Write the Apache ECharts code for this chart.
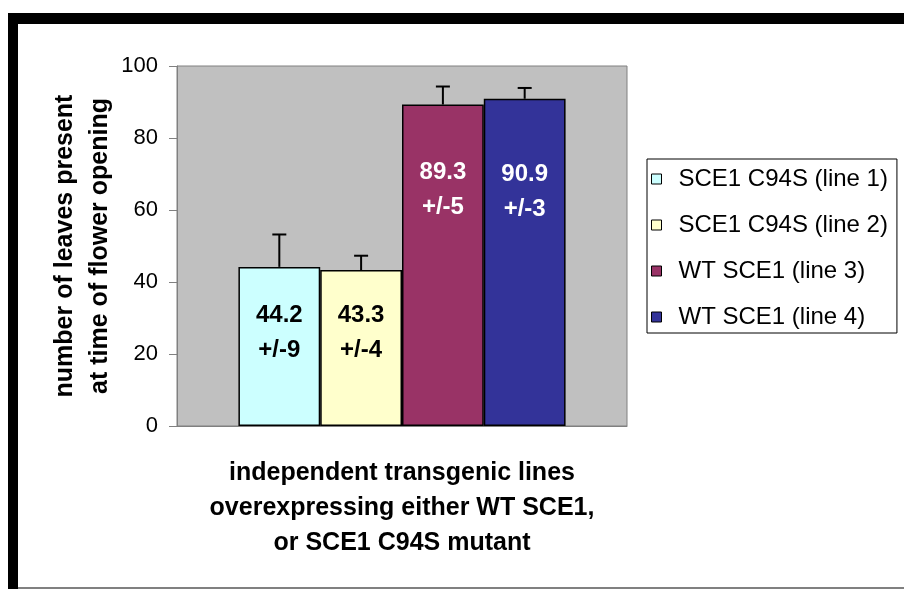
<!DOCTYPE html>
<html>
<head>
<meta charset="utf-8">
<script src="https://cdn.jsdelivr.net/npm/echarts@6/dist/echarts.min.js"></script>
<style>
html,body{margin:0;padding:0;background:#fff;}
#chart{width:904px;height:592px;}
</style>
</head>
<body>
<div id="chart"></div>
<script>
var categories = [''];
var seriesNames = ['SCE1 C94S (line 1)', 'SCE1 C94S (line 2)', 'WT SCE1 (line 3)', 'WT SCE1 (line 4)'];
var seriesValues = [44.2, 43.3, 89.3, 90.9];
var seriesErrors = [9, 4, 5, 3];
var yTicks = [0, 20, 40, 60, 80, 100];

var colors = ['#CCFFFF', '#FFFFCC', '#993366', '#333399'];
var labelColors = ['#000', '#000', '#fff', '#fff'];
var labelOffsets = [31, 28, 50, 58];
var CAT_GAP = 0.273;

var chart = echarts.init(document.getElementById('chart'));

var series = seriesNames.map(function (name, i) {
  return {
    name: name,
    type: 'bar',
    data: [seriesValues[i]],
    barGap: '0%',
    barCategoryGap: (CAT_GAP * 100) + '%',
    itemStyle: { color: colors[i], borderColor: '#000', borderWidth: 1.5 },
    label: {
      show: true,
      position: ['50%', labelOffsets[i]],
      align: 'center',
      verticalAlign: 'top',
      color: labelColors[i],
      fontFamily: 'Liberation Sans, Arial, sans-serif',
      fontWeight: 'bold',
      fontSize: 24,
      lineHeight: 35,
      formatter: function (p) { return p.value + '\n+/-' + seriesErrors[i]; }
    },
    emphasis: { disabled: true },
    z: 2
  };
});

var errData = seriesValues.map(function (v, i) { return [0, v, seriesErrors[i], i]; });
series.push({
  type: 'custom',
  name: 'err',
  data: errData,
  z: 5,
  silent: true,
  renderItem: function (params, api) {
    var idx = api.value(3);
    var base = api.coord([0, api.value(1)]);
    var top = api.coord([0, api.value(1) + api.value(2)]);
    var catW = api.size([1, 0])[0];
    var barW = catW * (1 - CAT_GAP) / seriesNames.length;
    var x = base[0] - barW * seriesNames.length / 2 + (idx + 0.5) * barW;
    var cap = 7;
    var st = { stroke: '#000', lineWidth: 2 };
    return {
      type: 'group',
      children: [
        { type: 'line', shape: { x1: x, y1: base[1], x2: x, y2: top[1] }, style: st },
        { type: 'line', shape: { x1: x - cap, y1: top[1], x2: x + cap, y2: top[1] }, style: st }
      ]
    };
  }
});

var option = {
  animation: false,
  backgroundColor: '#fff',
  graphic: [
    { type: 'rect', shape: { x: 8, y: 13, width: 896, height: 11 }, style: { fill: '#000' }, silent: true },
    { type: 'rect', shape: { x: 8, y: 13, width: 10, height: 576 }, style: { fill: '#000' }, silent: true },
    { type: 'rect', shape: { x: 18, y: 587, width: 886, height: 2 }, style: { fill: '#808080' }, silent: true }
  ],
  grid: {
    left: 177, top: 66, width: 450, height: 360,
    show: true, backgroundColor: '#C0C0C0', borderColor: '#808080', borderWidth: 1
  },
  legend: {
    data: seriesNames,
    orient: 'vertical',
    left: 647, top: 159,
    padding: [8, 9, 4, 4],
    itemGap: 22,
    icon: 'rect',
    itemWidth: 10, itemHeight: 10,
    borderColor: '#000', borderWidth: 1,
    backgroundColor: '#fff',
    itemStyle: { borderColor: '#000', borderWidth: 1 },
    textStyle: { fontFamily: 'Liberation Sans, Arial, sans-serif', fontSize: 24, color: '#000', padding: [0, 0, 0, 12] },
    selectedMode: false
  },
  xAxis: {
    type: 'category',
    data: categories,
    axisLine: { show: true, lineStyle: { color: '#808080', width: 1 } },
    axisTick: { show: false },
    axisLabel: { show: false },
    name: 'independent transgenic lines\noverexpressing either WT SCE1,\nor SCE1 C94S mutant',
    nameLocation: 'middle',
    nameGap: 30,
    nameTextStyle: { fontFamily: 'Liberation Sans, Arial, sans-serif', fontWeight: 'bold', fontSize: 25, lineHeight: 35, color: '#000', align: 'center' }
  },
  yAxis: {
    type: 'value',
    min: yTicks[0], max: yTicks[yTicks.length - 1], interval: yTicks[1] - yTicks[0],
    axisLine: { show: true, lineStyle: { color: '#808080', width: 1 } },
    axisTick: { show: true, inside: false, length: 8, lineStyle: { color: '#808080', width: 1 } },
    splitLine: { show: false },
    axisLabel: { margin: 19, fontFamily: 'Liberation Sans, Arial, sans-serif', fontSize: 22, color: '#000' },
    name: 'number of leaves present\nat time of flower opening',
    nameLocation: 'middle',
    nameGap: 58,
    nameTextStyle: { fontFamily: 'Liberation Sans, Arial, sans-serif', fontWeight: 'bold', fontSize: 25, lineHeight: 35, color: '#000', align: 'center' }
  },
  series: series
};
chart.setOption(option);
</script>
</body>
</html>
